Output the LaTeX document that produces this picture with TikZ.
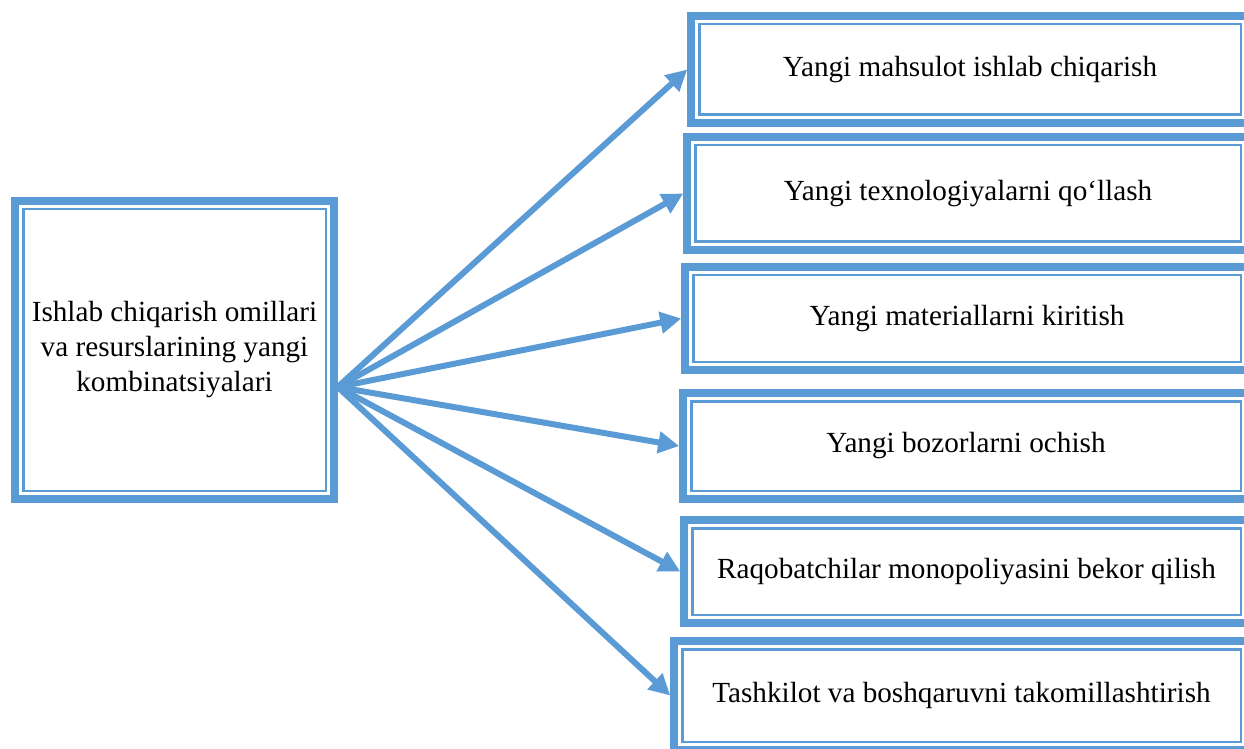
\documentclass[tikz,border=0pt]{standalone}
\usepackage{fontspec}
\setmainfont{Liberation Serif}
\usetikzlibrary{arrows.meta}
\definecolor{boxblue}{HTML}{5B9BD5}

\begin{document}
\begin{tikzpicture}[x=0.5pt, y=-0.5pt,
  box/.style={draw=boxblue, line width=3.75pt, inner sep=0pt, align=center,
    font=\fontsize{14.6}{17.5}\selectfont},
  innerline/.style={draw=boxblue, line width=1.25pt},
  link/.style={draw=boxblue, line width=3pt, -{Triangle[length=10.5pt, width=10.5pt]}}]
\useasboundingbox (0,0) rectangle (1244,749);
\node[box, minimum width=159.5pt, minimum height=149pt] (comb) at (174.5,350)
  {Ishlab chiqarish omillari\\ va resurslarining yangi\\ kombinatsiyalari};
\node[box, minimum width=279pt, minimum height=53.5pt] (m1) at (970,69.5) {Yangi mahsulot ishlab chiqarish};
\node[box, minimum width=281pt, minimum height=56.5pt] (m2) at (968,193.5) {Yangi texnologiyalarni qo‘llash};
\node[box, minimum width=282pt, minimum height=51.5pt] (m3) at (967,318.5) {Yangi materiallarni kiritish};
\node[box, minimum width=283pt, minimum height=53pt] (m4) at (966,446) {Yangi bozorlarni ochish};
\node[box, minimum width=282.5pt, minimum height=51.5pt] (m5) at (966.5,571.5) {Raqobatchilar monopoliyasini bekor qilish};
\node[box, minimum width=287.5pt, minimum height=54.5pt] (m6) at (961.5,695.5) {Tashkilot va boshqaruvni takomillashtirish};
% thin inner frames
\foreach \b in {comb,m1,m2,m3,m4,m5,m6}
  \draw[innerline] ([shift={(6pt,-6pt)}]\b.north west) rectangle ([shift={(-6pt,6pt)}]\b.south east);
\coordinate (src) at ([yshift=-18.5pt]comb.east);
\foreach \b in {m1,m2,m3,m4,m5,m6}
  \draw[link] (src) -- (\b.west);
\end{tikzpicture}
\end{document}
